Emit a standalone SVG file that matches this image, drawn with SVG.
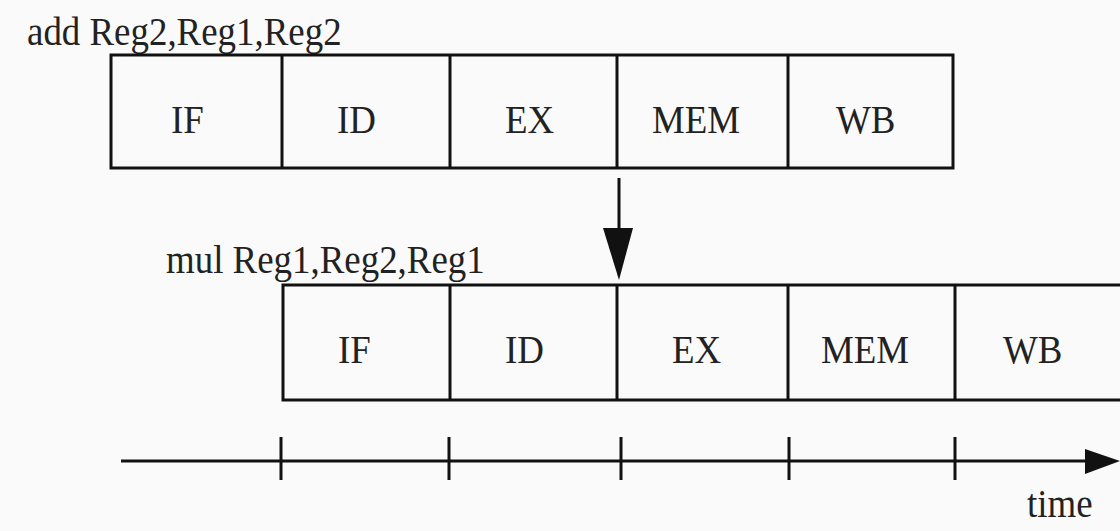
<svg xmlns="http://www.w3.org/2000/svg" width="1120" height="531" viewBox="0 0 1120 531">
<style>
.box{fill:none;stroke:#111;stroke-width:3}
.div{stroke:#111;stroke-width:3}
.lbl{font-family:'Liberation Serif','Times New Roman','DejaVu Serif',serif;font-size:41px;fill:#222}
.ln{stroke:#111;stroke-width:3;fill:none}
</style>
<rect width="1120" height="531" fill="#fafafa"/>
<text class="lbl" transform="translate(27,45) scale(0.9,1)">add Reg2,Reg1,Reg2</text>
<text class="lbl" transform="translate(166,273) scale(0.9,1)">mul Reg1,Reg2,Reg1</text>
<g id="row1">
<rect class="box" x="111" y="55" width="842" height="113"/>
<line class="div" x1="282" y1="55" x2="282" y2="168"/>
<line class="div" x1="450" y1="55" x2="450" y2="168"/>
<line class="div" x1="617" y1="55" x2="617" y2="168"/>
<line class="div" x1="788" y1="55" x2="788" y2="168"/>
</g>
<g id="n1-IF"><text class="lbl" transform="translate(171,133) scale(0.9,1)">IF</text></g>
<g id="n1-ID"><text class="lbl" transform="translate(337,133) scale(0.9,1)">ID</text></g>
<g id="n1-EX"><text class="lbl" transform="translate(505,133) scale(0.9,1)">EX</text></g>
<g id="n1-MEM"><text class="lbl" transform="translate(652,133) scale(0.9,1)">MEM</text></g>
<g id="n1-WB"><text class="lbl" transform="translate(836,133) scale(0.9,1)">WB</text></g>
<g id="row2">
<path class="ln" d="M1125,285 H283 V400 H1125"/>
<line class="div" x1="450" y1="285" x2="450" y2="400"/>
<line class="div" x1="617" y1="285" x2="617" y2="400"/>
<line class="div" x1="788" y1="285" x2="788" y2="400"/>
<line class="div" x1="955" y1="285" x2="955" y2="400"/>
</g>
<g id="n2-IF"><text class="lbl" transform="translate(338,363) scale(0.9,1)">IF</text></g>
<g id="n2-ID"><text class="lbl" transform="translate(505,363) scale(0.9,1)">ID</text></g>
<g id="n2-EX"><text class="lbl" transform="translate(672,363) scale(0.9,1)">EX</text></g>
<g id="n2-MEM"><text class="lbl" transform="translate(821,363) scale(0.9,1)">MEM</text></g>
<g id="n2-WB"><text class="lbl" transform="translate(1003,363) scale(0.9,1)">WB</text></g>
<g id="connectors">
<line class="ln" x1="619" y1="178" x2="619" y2="230"/>
<polygon points="603,228 633,228 619,280" fill="#111"/>
<line class="ln" x1="121" y1="461" x2="1090" y2="461"/>
<polygon points="1085,449 1120,461 1085,474" fill="#111"/>
<line class="ln" x1="281" y1="437" x2="281" y2="480"/>
<line class="ln" x1="449" y1="437" x2="449" y2="480"/>
<line class="ln" x1="621" y1="437" x2="621" y2="480"/>
<line class="ln" x1="789" y1="437" x2="789" y2="480"/>
<line class="ln" x1="955" y1="437" x2="955" y2="480"/>
</g>
<text class="lbl" transform="translate(1027,517) scale(0.9,1)">time</text>
</svg>
